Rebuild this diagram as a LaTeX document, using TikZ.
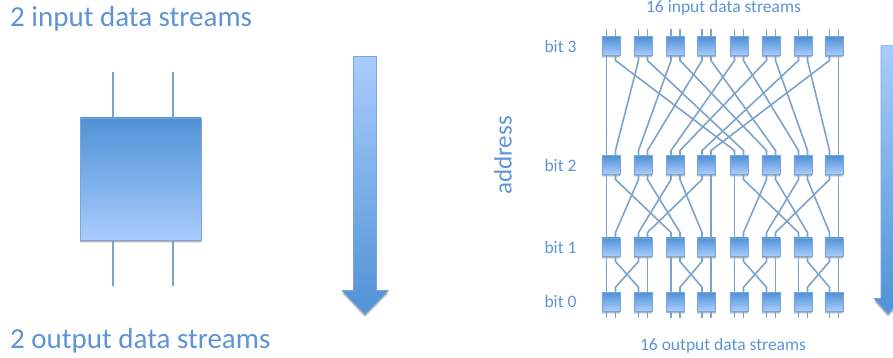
\documentclass[tikz,border=0pt]{standalone}
\usepackage{fontspec}
\setmainfont{Carlito}
\usetikzlibrary{calc}
\definecolor{txtblue}{HTML}{5F93D6}
\definecolor{wireblue}{HTML}{7CA3CC}
\definecolor{deepblue}{HTML}{4F92D6}
\definecolor{paleblue}{HTML}{A9CCFD}
\definecolor{edgeblue}{HTML}{7BA5D6}
\tikzset{
	wire/.style={wireblue,line width=1.6pt},
	shad/.style={preaction={draw=none,fill=black!70,fill opacity=.3,transform canvas={yshift=-2pt}},
		preaction={draw=none,fill=black!70,fill opacity=.15,transform canvas={yshift=-3pt}}},
	muxbox/.style={rectangle,draw=edgeblue,line width=.6pt,top color=deepblue,bottom color=paleblue,inner sep=0pt,shad},
	downarrow/.style={draw=edgeblue,line width=.6pt,top color=paleblue,bottom color=deepblue,shad},
	bigtxt/.style={txtblue,font=\fontsize{29}{29}\selectfont,anchor=base west,inner sep=0pt},
	smalltxt/.style={txtblue,font=\fontsize{17.5}{18}\selectfont,anchor=base,inner sep=0pt},
	bitlabel/.style={txtblue,font=\fontsize{17.5}{18}\selectfont,inner sep=0pt},
}
% wires of one shuffle stage: upper level, lower level, first port, boxes in the group
\newcommand{\shufflewires}[4]{
	\pgfmathtruncatemacro{\last}{2*#4-1}
	\foreach \r in {0,...,\last} {
		\pgfmathtruncatemacro{\k}{#3+\r}
		\pgfmathtruncatemacro{\t}{#3+(mod(\r,2)==0 ? \r/2 : #4+(\r-1)/2)}
		\draw[wire] (b#1out\k) -- ($(b#1out\k)+(0,5)$) -- ($(b#2in\t)+(0,-5)$) -- (b#2in\t);
	}
}
\begin{document}
\begin{tikzpicture}[x=1pt,y=-1pt]
	\clip (0,0) rectangle (893,358);
	% left side
	\node[bigtxt] (inTwo) at (10,26.5) {2 input data streams};
	\node[bigtxt] (outTwo) at (10,348) {2 output data streams};
	\node[muxbox,minimum width=121pt,minimum height=122pt] (bigbox) at (140.5,179) {};
	\foreach \x[count=\k] in {113,173} {
		\coordinate (topend\k) at (\x,72);
		\coordinate (botend\k) at (\x,286);
		\draw[wire] (topend\k) -- (topend\k |- bigbox.north);
		\draw[wire] (botend\k) -- (botend\k |- bigbox.south);
	}
	\path[downarrow] (353.5,56.5) -- (376.5,56.5) -- (376.5,290.5) -- (388.5,290.5)
		-- (365,314.5) -- (342,290.5) -- (353.5,290.5) -- cycle;
	% right side
	\node[smalltxt] (inSixteen) at (723.5,12.5) {16 input data streams};
	\node[smalltxt] (outSixteen) at (723,350) {16 output data streams};
	\node[txtblue,font=\fontsize{25}{25}\selectfont,rotate=90,inner sep=0pt] (addr) at (503,155.5) {address};
	\foreach \lev/\y in {3/46,2/165,1/247,0/301.7} {
		\node[bitlabel] (lab\lev) at (560.5,\y) {bit \lev};
		\foreach \x[count=\i from 0] in {611,643,675.5,706.5,739,771,803,834} {
			\node[muxbox,minimum size=18.4pt] (b\lev-\i) at (\x,\y) {};
			\pgfmathtruncatemacro{\k}{2*\i}
			\pgfmathtruncatemacro{\m}{2*\i+1}
			\coordinate (b\lev in\k) at ($(b\lev-\i.north)+(-4.5,0)$);
			\coordinate (b\lev in\m) at ($(b\lev-\i.north)+(4.5,0)$);
			\coordinate (b\lev out\k) at ($(b\lev-\i.south)+(-4.5,0)$);
			\coordinate (b\lev out\m) at ($(b\lev-\i.south)+(4.5,0)$);
		}
	}
	\foreach \k in {0,...,15} {
		\coordinate (stubT\k) at ($(b3in\k)+(0,-7)$);
		\coordinate (stubB\k) at ($(b0out\k)+(0,7)$);
		\draw[wire] (stubT\k) -- (b3in\k);
		\draw[wire] (b0out\k) -- (stubB\k);
	}
	\shufflewires{3}{2}{0}{8}
	\foreach \g in {0,8} {\shufflewires{2}{1}{\g}{4}}
	\foreach \g in {0,4,8,12} {\shufflewires{1}{0}{\g}{2}}
	\path[downarrow] (881,45.7) -- (895,45.7) -- (895,298.5) -- (902,298.5)
		-- (888,314) -- (874,298.5) -- (881,298.5) -- cycle;
\end{tikzpicture}
\end{document}
